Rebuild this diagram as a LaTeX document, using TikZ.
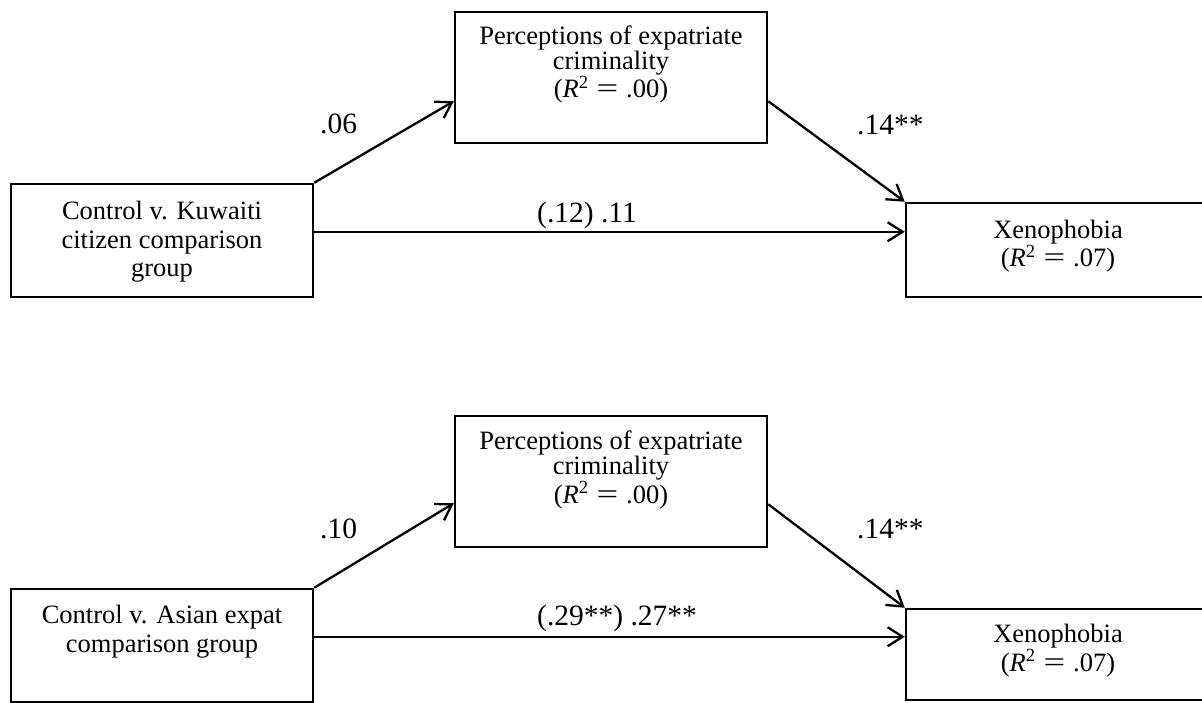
\documentclass[tikz,border=0pt]{standalone}
\usepackage{fontspec}
\usepackage{graphicx}
\setmainfont{Liberation Serif}
\usetikzlibrary{arrows.meta,calc}
\newcommand{\rsq}[1]{(\textit{R}\textsuperscript{2}\hspace{0.3em}\scalebox{1.45}[1.05]{=}\hspace{0.3em}#1)}
\begin{document}
\begin{tikzpicture}[x=1pt,y=-1pt,
  box/.style={draw, line width=2.5pt, inner sep=0pt},
  boxtext/.style={inner sep=0pt, align=center, anchor=base, font=\fontsize{26.5}{28.5}\selectfont},
  midtext/.style={boxtext, font=\fontsize{26.5}{25.5}\selectfont},
  coef/.style={inner sep=0pt, anchor=base west, font=\fontsize{29.5}{32}\selectfont},
  path/.style={line width=2.3pt, -{Straight Barb[length=15pt,width=19pt,line width=2.3pt]}}]
\useasboundingbox (0,0) rectangle (1202,703);

% ---------- top panel ----------
\node[box, minimum width=302pt, minimum height=113pt] (L1) at (162,240.5) {};
\node[box, minimum width=312pt, minimum height=131pt] (M1) at (611,77.5) {};
\node[box, minimum width=304pt, minimum height=94pt] (R1) at (1058,250) {};
\node[boxtext] (L1t) at (162,277) {Control v. Kuwaiti\\citizen comparison\\group};
\node[midtext] (M1t) at (611,98) {Perceptions of expatriate\\criminality\\\rsq{.00}};
\node[boxtext] (R1t) at (1058,267) {Xenophobia\\\rsq{.07}};

\coordinate (M1in) at ($(M1.south west)+(0,-43)$);
\coordinate (M1out) at ($(M1.south east)+(0,-43)$);
\coordinate (L1out) at ($(L1.north east)+(0,49)$);
\draw[path] (L1.north east) -- (M1in);
\draw[path] (M1out) -- (R1.north west);
\draw[path] (L1out) -- (R1.west |- L1out);

\node[coef] (a1) at (320,134) {.06};
\node[coef] (b1) at (857,135) {.14**};
\node[coef] (c1) at (537,223) {(.12) .11};

% ---------- bottom panel ----------
\node[box, minimum width=302pt, minimum height=113pt] (L2) at (162,645.5) {};
\node[box, minimum width=312pt, minimum height=131pt] (M2) at (611,481.5) {};
\node[box, minimum width=304pt, minimum height=91pt] (R2) at (1058,654.5) {};
\node[boxtext] (L2t) at (162,652) {Control v. Asian expat\\comparison group};
\node[midtext] (M2t) at (611,503) {Perceptions of expatriate\\criminality\\\rsq{.00}};
\node[boxtext] (R2t) at (1058,671) {Xenophobia\\\rsq{.07}};

\coordinate (M2in) at ($(M2.south west)+(0,-45)$);
\coordinate (M2out) at ($(M2.south east)+(0,-44)$);
\coordinate (L2out) at ($(L2.north east)+(0,49)$);
\draw[path] (L2.north east) -- (M2in);
\draw[path] (M2out) -- (R2.north west);
\draw[path] (L2out) -- (R2.west |- L2out);

\node[coef] (a2) at (320,538) {.10};
\node[coef] (b2) at (857,538) {.14**};
\node[coef] (c2) at (537,625) {(.29**) .27**};
\end{tikzpicture}
\end{document}
